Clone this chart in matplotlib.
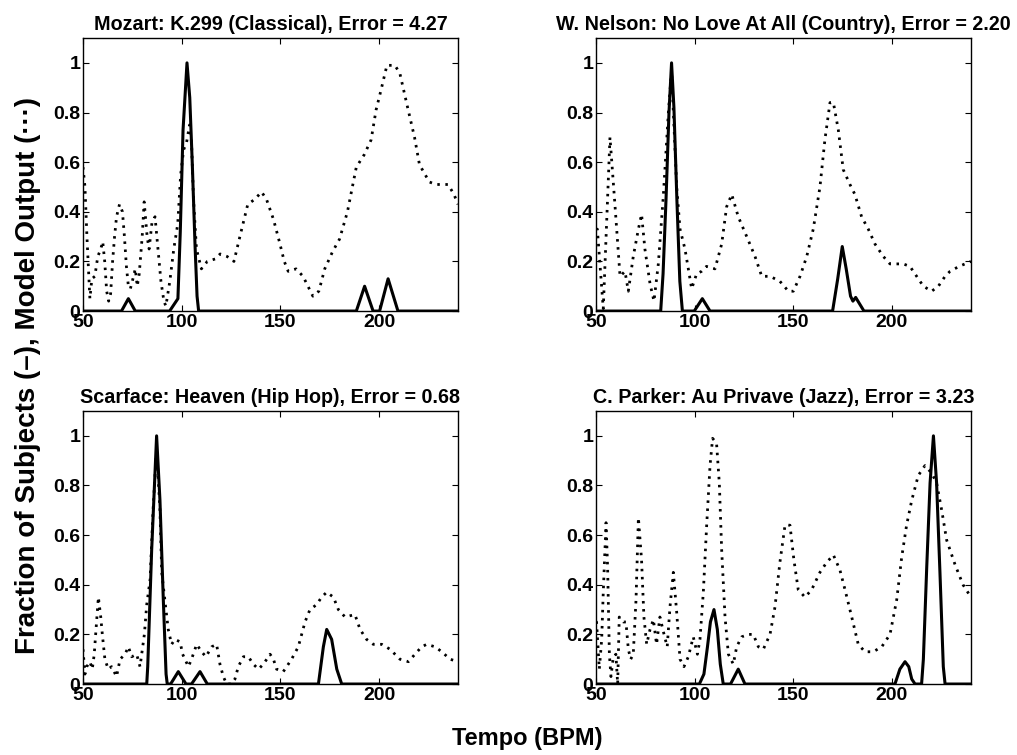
import matplotlib
matplotlib.use('Agg')
import matplotlib.pyplot as plt

plt.rcParams['font.family'] = ['Liberation Sans', 'DejaVu Sans']
plt.rcParams['font.weight'] = 'bold'

#--- Panel titles ---
titles = ['Mozart: K.299 (Classical), Error = 4.27',
          'W. Nelson: No Love At All (Country), Error = 2.20',
          'Scarface: Heaven (Hip Hop), Error = 0.68',
          'C. Parker: Au Privave (Jazz), Error = 3.23']

#--- Fraction of subjects (solid) ---
subj_x_1 = [50, 69.5, 73, 76.5, 93.9, 98.1, 99.3, 100.7, 102.7, 104.1, 105.4, 106.8, 107.8, 108.6,
            188.5, 192.7, 197, 200.3, 204.6, 209.6, 240]
subj_y_1 = [0, 0, 0.05, 0, 0, 0.05, 0.32, 0.73, 1.0, 0.86, 0.59, 0.26, 0.06, 0,
            0, 0.10, 0, 0, 0.13, 0, 0]

subj_x_2 = [50, 82.8, 84, 85.5, 87, 88.3, 89.5, 91, 92.5, 93.8, 99.8, 103.9, 107.8,
            169.9, 172.5, 174.8, 176.8, 179, 180.2, 181.6, 185.8, 240]
subj_y_2 = [0, 0, 0.15, 0.45, 0.8, 1.0, 0.82, 0.45, 0.12, 0, 0, 0.05, 0,
            0, 0.13, 0.26, 0.17, 0.06, 0.04, 0.055, 0, 0]

subj_x_3 = [50, 82.3, 82.8, 84.8, 87.3, 89, 90.7, 92.1, 92.7, 94.4, 98.3, 102.2, 105, 109.3, 113,
            169.3, 171.8, 173.5, 176, 178.6, 181.1, 240]
subj_y_3 = [0, 0, 0.07, 0.54, 1.0, 0.74, 0.34, 0.04, 0, 0, 0.05, 0, 0, 0.05, 0,
            0, 0.15, 0.22, 0.18, 0.06, 0, 0]

subj_x_4 = [50, 102.4, 104.7, 106.5, 108, 109.8, 111.5, 113, 114.5, 118.2, 122.1, 125.5,
            201.5, 204, 206.6, 208.5, 210, 211.7, 215, 215.9, 217.6, 219.3, 221, 222.6,
            224.3, 226, 226.9, 240]
subj_y_4 = [0, 0, 0.04, 0.15, 0.25, 0.30, 0.22, 0.08, 0, 0, 0.06, 0,
            0, 0.06, 0.09, 0.07, 0.02, 0, 0, 0.10, 0.47, 0.81, 1.0, 0.81,
            0.45, 0.07, 0, 0]

#--- Model output (dotted) ---
model_x_1 = [50, 51, 52, 53.5, 54.5, 56, 57.5, 59, 60, 61, 62, 63, 64, 65, 66, 67, 68.5, 70, 71,
             72, 73, 74, 75, 76.5, 77.5, 78.5, 80, 81, 82.5, 83.5, 85, 86.5, 88, 89.5, 91, 92,
             94, 96, 98, 99.5, 101, 102.5, 104, 105, 106, 107.5, 110, 113, 117, 119.5, 123,
             126.5, 129.5, 133.5, 137, 140.5, 143, 146.5, 149.5, 152, 154, 158, 161.5, 164,
             166.5, 169.5, 172.5, 176.5, 180, 184, 188.5, 192.5, 196, 198.5, 201, 204, 208,
             210.5, 214.5, 218, 220.5, 225.5, 229, 235, 238, 240]
model_y_1 = [0.58, 0.50, 0.30, 0.05, 0.13, 0.14, 0.22, 0.25, 0.28, 0.20, 0.08, 0.04, 0.07, 0.20,
             0.30, 0.38, 0.43, 0.40, 0.30, 0.18, 0.10, 0.09, 0.12, 0.17, 0.10, 0.15, 0.30, 0.44,
             0.30, 0.25, 0.36, 0.38, 0.25, 0.12, 0.04, 0.02, 0.12, 0.25, 0.35, 0.55, 0.65, 0.68,
             0.75, 0.68, 0.45, 0.25, 0.17, 0.20, 0.21, 0.23, 0.22, 0.20, 0.30, 0.43, 0.45, 0.48,
             0.45, 0.37, 0.28, 0.20, 0.16, 0.17, 0.14, 0.10, 0.06, 0.08, 0.17, 0.24, 0.29, 0.40,
             0.58, 0.63, 0.69, 0.81, 0.89, 0.99, 0.99, 0.96, 0.82, 0.70, 0.59, 0.52, 0.51, 0.51,
             0.47, 0.43]

model_x_2 = [50, 50.7, 53.7, 57.1, 59.6, 62.2, 64.7, 66.4, 68.9, 71.5, 73.1, 74.8, 77.4, 79.4,
             81.6, 84.1, 86.7, 88.3, 90.9, 92.6, 95.1, 96.8, 98.5, 101, 103.5, 106, 110.3, 113.7,
             116.2, 118.8, 122.1, 126.4, 130.6, 134, 138.2, 143.2, 147.5, 150, 153.4, 156.8,
             160.1, 163.5, 166, 168.6, 170.3, 172.8, 175.3, 178.7, 181.2, 184.6, 188, 191.4,
             195.6, 199, 202.4, 205.7, 209.1, 212.5, 215.9, 220.1, 223.5, 226.9, 229.4, 234, 240]
model_y_2 = [0.33, 0.33, 0.01, 0.70, 0.43, 0.14, 0.16, 0.08, 0.22, 0.33, 0.39, 0.25, 0.11, 0.04,
             0.19, 0.46, 0.80, 0.97, 0.50, 0.33, 0.25, 0.17, 0.09, 0.15, 0.16, 0.18, 0.17, 0.27,
             0.42, 0.47, 0.38, 0.30, 0.22, 0.14, 0.14, 0.12, 0.08, 0.08, 0.14, 0.22, 0.33, 0.50,
             0.69, 0.84, 0.84, 0.73, 0.57, 0.51, 0.47, 0.38, 0.33, 0.27, 0.22, 0.19, 0.19, 0.19,
             0.18, 0.14, 0.10, 0.08, 0.10, 0.14, 0.16, 0.18, 0.20]

model_x_3 = [50, 51, 51.9, 53.5, 54.7, 55.7, 56.6, 57.8, 59, 59.8, 61.1, 62.8, 64.5, 67, 68.8,
             71.3, 73, 74.7, 77.2, 78.9, 81.1, 82.3, 84, 85.5, 87.3, 89, 89.9, 91.6, 93.2, 94.9,
             96.6, 99.2, 100.5, 103.4, 105, 107.6, 110.1, 112.3, 115.2, 117.7, 119.4, 121.1,
             122.8, 125, 127, 128.7, 131.3, 133.8, 136.3, 138.9, 141.4, 144.8, 146.5, 148.1,
             151.5, 153.2, 155.7, 159.1, 160.8, 162.5, 165, 168.4, 170.9, 173.5, 176.9, 179.4,
             182.8, 187.8, 190.4, 193.7, 197.1, 201.4, 205.6, 210.6, 214.9, 218.2, 221.6, 224.2,
             228.4, 231.8, 236, 240]
model_y_3 = [0.14, 0.04, 0.07, 0.09, 0.06, 0.12, 0.22, 0.35, 0.27, 0.20, 0.10, 0.06, 0.07, 0.03,
             0.10, 0.12, 0.15, 0.11, 0.12, 0.07, 0.20, 0.32, 0.42, 0.70, 0.95, 0.70, 0.45, 0.33,
             0.22, 0.16, 0.18, 0.17, 0.12, 0.07, 0.10, 0.16, 0.13, 0.11, 0.15, 0.16, 0.08, 0.03,
             0.0, 0.0, 0.02, 0.07, 0.11, 0.11, 0.08, 0.06, 0.08, 0.12, 0.10, 0.06, 0.05, 0.07,
             0.10, 0.15, 0.20, 0.25, 0.30, 0.32, 0.35, 0.37, 0.35, 0.30, 0.27, 0.28, 0.22, 0.18,
             0.16, 0.16, 0.14, 0.10, 0.09, 0.12, 0.15, 0.16, 0.15, 0.13, 0.10, 0.09]

model_x_4 = [50, 50.3, 51.7, 52.9, 53.7, 55.1, 55.9, 56.8, 57.6, 58.8, 60.1, 61, 61.8, 63.9, 65.2,
             66.4, 67.6, 68.9, 70.3, 71.5, 73.1, 74.3, 75.7, 77.4, 79.1, 80.7, 82.4, 84.5, 86.1,
             87.5, 89.2, 90.9, 92.6, 94.6, 96.8, 99.3, 101.4, 102.7, 104.4, 106.1, 107.8, 109.1,
             111.1, 112.5, 113.7, 115.4, 117.1, 119.6, 121.3, 123.8, 127.2, 129.7, 132.3, 134.8,
             138.2, 140.7, 143.2, 145.8, 148.3, 150.3, 152.5, 155.9, 159.3, 163.5, 166.9, 170.3,
             173.6, 176.2, 179.6, 182.9, 186.3, 190.5, 194.8, 199, 202.4, 204.9, 207.4, 210,
             213.3, 216.7, 220.1, 222.6, 225.2, 227.7, 232, 236, 240]
model_y_4 = [0.25, 0.25, 0.06, 0.18, 0.37, 0.65, 0.47, 0.12, 0.03, 0.11, 0.12, 0.0, 0.27, 0.25,
             0.25, 0.14, 0.10, 0.12, 0.34, 0.67, 0.50, 0.27, 0.16, 0.22, 0.26, 0.16, 0.27, 0.20,
             0.15, 0.31, 0.45, 0.29, 0.10, 0.07, 0.11, 0.19, 0.12, 0.18, 0.37, 0.64, 0.88, 0.99,
             0.97, 0.81, 0.54, 0.27, 0.12, 0.08, 0.15, 0.19, 0.20, 0.20, 0.15, 0.14, 0.20, 0.31,
             0.49, 0.64, 0.64, 0.50, 0.38, 0.35, 0.38, 0.45, 0.49, 0.52, 0.46, 0.38, 0.27, 0.16,
             0.13, 0.13, 0.15, 0.20, 0.34, 0.51, 0.64, 0.74, 0.84, 0.88, 0.85, 0.81, 0.70, 0.58,
             0.48, 0.40, 0.35]

subj_x = [subj_x_1, subj_x_2, subj_x_3, subj_x_4]
subj_y = [subj_y_1, subj_y_2, subj_y_3, subj_y_4]
model_x = [model_x_1, model_x_2, model_x_3, model_x_4]
model_y = [model_y_1, model_y_2, model_y_3, model_y_4]

xticks = [50, 100, 150, 200]
yticks = [0, 0.2, 0.4, 0.6, 0.8, 1]
yticklabels = ['0', '0.2', '0.4', '0.6', '0.8', '1']

#############################################################

fig = plt.figure(figsize=(10.17, 7.55), dpi=100)

# axes positions (figure fractions)
lefts = [0.0816, 0.586, 0.0816, 0.586]
bottoms = [0.588, 0.588, 0.094, 0.094]
ww = 0.3687
hh = 0.3616

for ii in range(4):
    ax = fig.add_axes([lefts[ii], bottoms[ii], ww, hh])

    ax.plot(model_x[ii], model_y[ii], color='black', lw=2.0,
            linestyle=(0, (0.9, 2.0)))
    ax.plot(subj_x[ii], subj_y[ii], color='black', lw=2.2)

    ax.set_xlim(50, 240)
    ax.set_ylim(0, 1.1)
    ax.set_xticks(xticks)
    ax.set_xticklabels([str(t) for t in xticks])
    ax.set_yticks(yticks)
    ax.set_yticklabels(yticklabels)
    ax.tick_params(direction='in', length=4, width=0.8, top=True, right=True,
                   labelsize=14, pad=2)
    for sp in ax.spines.values():
        sp.set_linewidth(1.0)

    ax.set_title(titles[ii], fontsize=14.2, fontweight='bold', pad=5.5)

fig.text(0.0275, 0.503, 'Fraction of Subjects (\u2013), Model Output (\u00b7\u00b7\u00b7)',
         rotation=90, ha='center', va='center', fontsize=20, fontweight='bold')
fig.text(0.518, 0.0225, 'Tempo (BPM)', ha='center', va='center',
         fontsize=17, fontweight='bold')

plt.savefig('out.png', dpi=100)
plt.close()
